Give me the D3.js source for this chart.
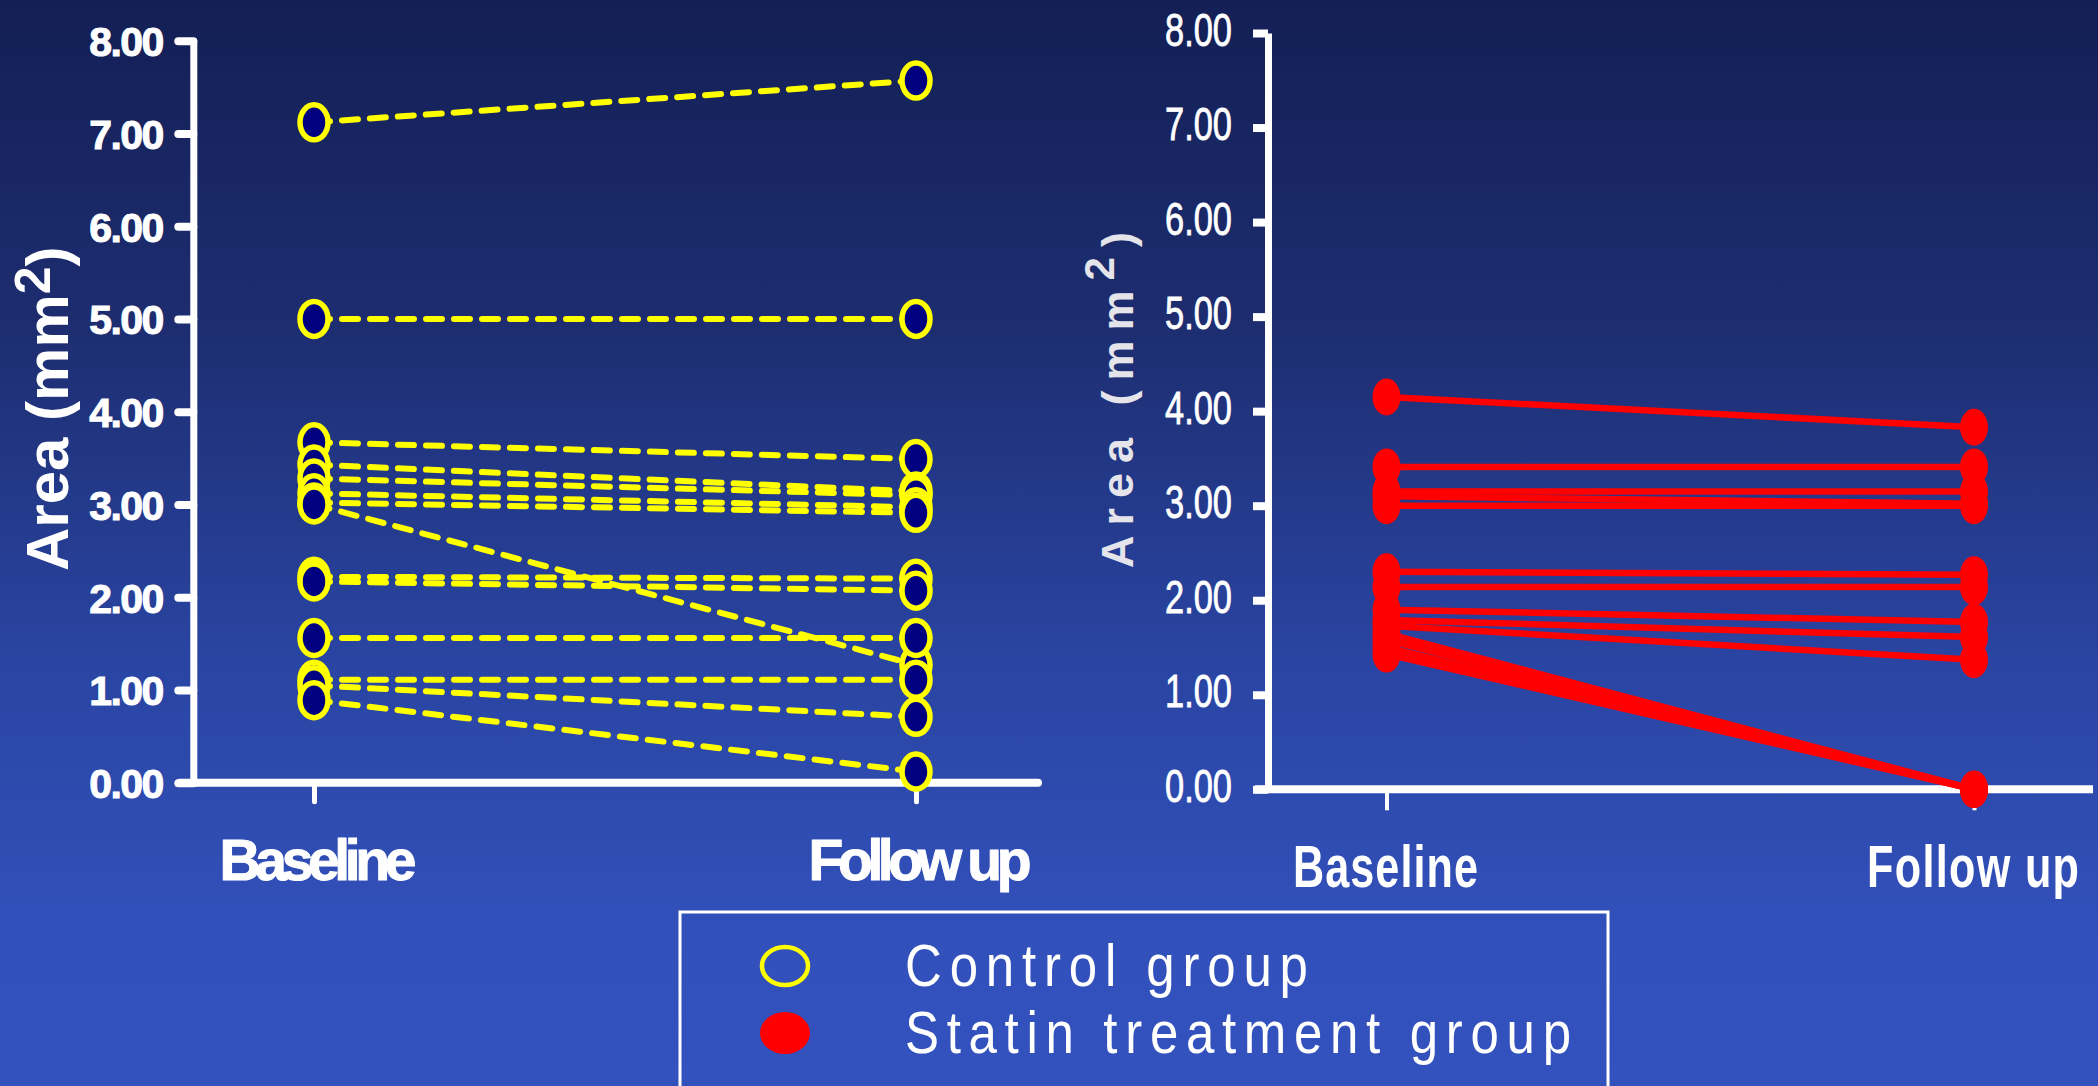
<!DOCTYPE html>
<html>
<head>
<meta charset="utf-8">
<script src="https://cdn.jsdelivr.net/npm/d3@7"></script>
<style>
  html, body { margin: 0; padding: 0; background: #2a43a0; }
  svg { display: block; }
</style>
</head>
<body>
<script>
// ---------------- DATA ----------------
const categories = ["Baseline", "Follow up"];
const yTicks = [0, 1, 2, 3, 4, 5, 6, 7, 8];

// Control group (left panel)
const controlBaseline = [7.12, 5.00, 3.67, 3.43, 3.28, 3.12, 3.02, 3.00, 2.22, 2.17, 1.56, 1.11, 1.05, 0.89];
const controlFollowUp = [7.57, 5.00, 3.49, 3.14, 3.10, 2.97, 2.91, 1.27, 2.20, 2.07, 1.56, 1.11, 0.71, 0.12];

// Statin treatment group (right panel)
const statinBaseline = [4.15, 3.41, 3.15, 3.10, 3.00, 2.30, 2.14, 1.90, 1.79, 1.73, 1.65, 1.58, 1.50, 1.43];
const statinFollowUp = [3.83, 3.41, 3.15, 3.02, 3.00, 2.27, 2.14, 1.77, 1.61, 1.37, 0.00, 0.00, 0.00, 0.00];

const legendLabels = ["Control group", "Statin treatment group"];

// ---------------- SETUP ----------------
const W = 2098, H = 1086;
const FONT = "Liberation Sans, Arial, sans-serif";
const svg = d3.select("body").append("svg").attr("width", W).attr("height", H);

const defs = svg.append("defs");
const grad = defs.append("linearGradient").attr("id", "bg")
  .attr("x1", 0).attr("y1", 0).attr("x2", 0).attr("y2", 1);
[[0, "#131f55"], [0.3, "#1d2d70"], [0.6, "#2944a1"], [0.85, "#3250ba"], [1, "#3452be"]]
  .forEach(([o, c]) => grad.append("stop").attr("offset", o).attr("stop-color", c));
svg.append("rect").attr("width", W).attr("height", H).attr("fill", "url(#bg)");

// helper: text fitted to a width, with optional horizontal glyph squeeze
function fitText(parent, x, y, str, o) {
  const sx = o.sx || 1;
  const g = parent.append("g").attr("transform", `translate(${x},${y}) scale(${sx},1)`);
  const t = g.append("text")
    .attr("x", 0).attr("y", 0)
    .attr("font-family", FONT)
    .attr("font-size", o.size)
    .attr("font-weight", o.weight || "normal")
    .attr("fill", o.fill || "#fff")
    .text(str);
  if (o.stroke) t.attr("stroke", o.fill || "#fff").attr("stroke-width", o.stroke).attr("stroke-linejoin", "round");
  if (o.width) t.attr("textLength", o.width / sx).attr("lengthAdjust", "spacing");
  return t;
}

// ---------------- LEFT PANEL (Control) ----------------
const yL = d3.scaleLinear().domain([0, 8]).range([782.7, 40.7]);
const xL = d3.scalePoint().domain(categories).range([314, 916]);

const axL = svg.append("g").attr("transform", "translate(193.3,0)")
  .call(d3.axisLeft(yL).tickValues(yTicks).tickSize(15).tickSizeOuter(0).tickFormat(d3.format(".2f")));
axL.select(".domain").attr("stroke", "#fff").attr("stroke-width", 7).attr("stroke-linecap", "round");
axL.selectAll(".tick line").attr("stroke", "#fff").attr("stroke-width", 8).attr("stroke-linecap", "round");
axL.selectAll(".tick text")
  .attr("fill", "#fff").attr("font-family", FONT)
  .attr("font-size", 41).attr("font-weight", "bold")
  .attr("stroke", "#fff").attr("stroke-width", 1)
  .attr("text-anchor", "start").attr("x", -104).attr("dy", null).attr("y", 15)
  .attr("textLength", 75).attr("lengthAdjust", "spacing");

const axLb = svg.append("g").attr("transform", "translate(0,782.7)")
  .call(d3.axisBottom(xL).tickSize(19).tickSizeOuter(0).tickFormat(""));
axLb.select(".domain").attr("d", "M180,0H1038").attr("stroke", "#fff").attr("stroke-width", 8).attr("stroke-linecap", "round");
axLb.selectAll(".tick line").attr("stroke", "#fff").attr("stroke-width", 5).attr("stroke-linecap", "round");

// category labels (left)
const leftLabelW = { "Baseline": 197, "Follow up": 223 };
categories.forEach(c => {
  fitText(svg, xL(c) + 4 - leftLabelW[c] / 2, 880, c,
    { size: 57, weight: "bold", width: leftLabelW[c], stroke: 1 });
});

// y title (left)
const tL = svg.append("g").attr("transform", "translate(68,571) rotate(-90)")
  .append("text").attr("font-family", FONT)
  .attr("font-size", 60).attr("font-weight", "bold").attr("fill", "#fff");
tL.append("tspan").text("Area (mm");
tL.append("tspan").attr("font-size", 50).attr("dy", -18).text("2");
tL.append("tspan").attr("dy", 18).text(")");

// lines (left)
const lineGen = d3.line().x(d => d[0]).y(d => d[1]);
const ctrlPairs = controlBaseline.map((b, i) => [[xL(categories[0]), yL(b)], [xL(categories[1]), yL(controlFollowUp[i])]]);
svg.append("g").selectAll("path").data(ctrlPairs).join("path")
  .attr("d", lineGen).attr("fill", "none").attr("stroke", "#ffff00")
  .attr("stroke-width", 6).attr("stroke-dasharray", "16,12").attr("stroke-linecap", "round");

const ctrlPts = [];
controlBaseline.forEach((b, i) => { ctrlPts.push([xL(categories[0]), yL(b)]); ctrlPts.push([xL(categories[1]), yL(controlFollowUp[i])]); });
svg.append("g").selectAll("ellipse").data(ctrlPts).join("ellipse")
  .attr("cx", d => d[0]).attr("cy", d => d[1]).attr("rx", 14).attr("ry", 17.5)
  .attr("fill", "#000080").attr("stroke", "#ffff00").attr("stroke-width", 5.5);

// ---------------- RIGHT PANEL (Statin) ----------------
const yR = d3.scaleLinear().domain([0, 8]).range([789.3, 33]);
const xR = d3.scalePoint().domain(categories).range([1386.5, 1974]);

const axR = svg.append("g").attr("transform", "translate(1268,0)")
  .call(d3.axisLeft(yR).tickValues(yTicks).tickSize(15).tickSizeOuter(0).tickFormat(d3.format(".2f")));
axR.select(".domain").attr("stroke", "#fff").attr("stroke-width", 7);
axR.selectAll(".tick line").attr("stroke", "#fff").attr("stroke-width", 8);
axR.selectAll(".tick text")
  .attr("fill", "#fff").attr("font-family", FONT)
  .attr("font-size", 46).attr("font-weight", "normal")
  .attr("stroke", "#fff").attr("stroke-width", 0.8)
  .attr("text-anchor", "start").attr("x", -103).attr("dy", null).attr("y", 12)
  .attr("textLength", 67).attr("lengthAdjust", "spacingAndGlyphs");

const axRb = svg.append("g").attr("transform", "translate(0,789.3)")
  .call(d3.axisBottom(xR).tickSize(21).tickSizeOuter(0).tickFormat(""));
axRb.select(".domain").attr("d", "M1255,0H2093").attr("stroke", "#fff").attr("stroke-width", 8);
axRb.selectAll(".tick line").attr("stroke", "#fff").attr("stroke-width", 4);

const rightLabelW = { "Baseline": 185, "Follow up": 212 };
categories.forEach(c => {
  fitText(svg, xR(c) - 1 - rightLabelW[c] / 2, 887, c,
    { size: 60, weight: "bold", width: rightLabelW[c], sx: 0.72 });
});

const tR = svg.append("g").attr("transform", "translate(1133,568) rotate(-90)")
  .append("text").attr("font-family", FONT)
  .attr("font-size", 45).attr("font-weight", "bold").attr("fill", "#e4e4ea")
  .attr("letter-spacing", 10);
tR.append("tspan").text("Area (mm");
tR.append("tspan").attr("font-size", 42).attr("dy", -19).text("2");
tR.append("tspan").attr("dy", 19).text(")");

const statPairs = statinBaseline.map((b, i) => [[xR(categories[0]), yR(b)], [xR(categories[1]), yR(statinFollowUp[i])]]);
svg.append("g").selectAll("path").data(statPairs).join("path")
  .attr("d", lineGen).attr("fill", "none").attr("stroke", "#ff0000").attr("stroke-width", 6.5);

const statPts = [];
statinBaseline.forEach((b, i) => { statPts.push([xR(categories[0]), yR(b)]); statPts.push([xR(categories[1]), yR(statinFollowUp[i])]); });
svg.append("g").selectAll("ellipse").data(statPts).join("ellipse")
  .attr("cx", d => d[0]).attr("cy", d => d[1]).attr("rx", 14).attr("ry", 18.5)
  .attr("fill", "#ff0000");

// ---------------- LEGEND ----------------
svg.append("rect").attr("x", 680).attr("y", 912).attr("width", 928).attr("height", 220)
  .attr("fill", "none").attr("stroke", "#fff").attr("stroke-width", 3);

const legendW = [403, 666];
legendLabels.forEach((lab, i) => {
  const cy = 966 + i * 67;
  if (i === 0) {
    svg.append("ellipse").attr("cx", 785).attr("cy", cy).attr("rx", 23).attr("ry", 19)
      .attr("fill", "none").attr("stroke", "#ffff00").attr("stroke-width", 4.5);
  } else {
    svg.append("ellipse").attr("cx", 785).attr("cy", cy).attr("rx", 25).attr("ry", 21)
      .attr("fill", "#ff0000");
  }
  fitText(svg, 905, cy + 20, lab, { size: 60, width: legendW[i], sx: 0.85 });
});
</script>
</body>
</html>
